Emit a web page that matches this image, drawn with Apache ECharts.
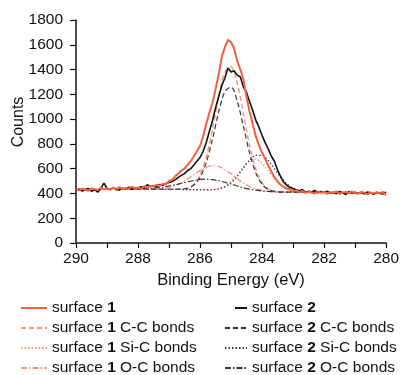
<!DOCTYPE html>
<html>
<head>
<meta charset="utf-8">
<script src="https://cdn.jsdelivr.net/npm/echarts@6/dist/echarts.min.js"></script>
<style>
html,body{margin:0;padding:0;background:#fff;}
#chart{width:402px;height:375px;}
</style>
</head>
<body>
<div id="chart"></div>
<script>
// Binding energies of the measured spectra (eV)
const energies = [290.0,289.9,289.8,289.7,289.6,289.5,289.4,289.3,289.2,289.1,
289.0,288.9,288.8,288.7,288.6,288.5,288.4,288.3,288.2,288.1,
288.0,287.9,287.8,287.7,287.6,287.5,287.4,287.3,287.2,287.1,
287.0,286.9,286.8,286.7,286.6,286.5,286.4,286.3,286.2,286.1,
286.0,285.9,285.8,285.7,285.6,285.5,285.4,285.3,285.2,285.1,
285.0,284.9,284.8,284.7,284.6,284.5,284.4,284.3,284.2,284.1,
284.0,283.9,283.8,283.7,283.6,283.5,283.4,283.3,283.2,283.1,
283.0,282.9,282.8,282.7,282.6,282.5,282.4,282.3,282.2,282.1,
282.0,281.9,281.8,281.7,281.6,281.5,281.4,281.3,281.2,281.1,
281.0,280.9,280.8,280.7,280.6,280.5,280.4,280.3,280.2,280.1,280.0];

const surface1 = [432,425,438,430,422,441,435,428,446,433,
440,429,447,436,452,431,444,438,455,440,
448,437,458,446,462,455,470,462,478,474,
500,508,540,560,585,600,630,660,700,740,
785,860,960,1050,1130,1240,1360,1500,1580,1640,
1620,1570,1470,1400,1320,1180,1060,960,860,790,
730,680,625,575,530,500,470,452,440,432,
418,425,410,420,404,415,408,398,416,405,
412,396,410,402,418,395,408,412,400,415,
403,398,412,405,393,408,400,410,402,412,386];

const surface2 = [425,436,420,431,440,418,430,411,438,484,
440,432,445,430,428,442,436,450,432,446,
440,454,442,470,456,462,455,472,466,480,
488,496,512,530,546,560,585,600,630,660,
690,740,810,900,985,1090,1180,1270,1330,1412,
1380,1390,1355,1340,1260,1215,1140,1070,990,935,
870,810,760,700,660,590,535,490,465,448,
440,428,420,432,410,418,412,425,405,415,
408,418,402,410,398,416,405,392,414,402,
410,400,408,396,412,404,394,408,400,396,412];

// Binding energies of the fitted components (eV)
const compEnergies = [288.6,288.4,288.2,288.0,287.8,287.6,287.4,287.2,287.0,286.8,
286.6,286.4,286.2,286.0,285.8,285.6,285.4,285.2,285.0,284.8,
284.6,284.4,284.2,284.0,283.8,283.6,283.4,283.2,283.0,282.8,
282.6,282.4,282.2,282.0];

const s1CC = [436,436,436,436,436,435,435,434,434,434,436,445,474,549,694,919,1179,1379,1423,1288,1041,786,596,487,436,418,412,410,410,410,410,410,410,410];
const s1SiC = [436,436,436,436,436,435,435,434,434,433,432,431,430,429,428,430,438,458,497,554,618,666,677,643,582,517,465,434,419,413,411,410,410,410];
const s1OC = [436,436,436,436,437,436,438,442,451,464,486,516,551,586,613,624,618,594,559,520,484,456,436,424,416,413,411,410,410,410,410,410,410,410];
const s2CC = [436,436,436,436,436,435,435,434,434,434,435,442,467,528,648,838,1056,1222,1259,1146,939,725,566,474,432,417,411,410,410,410,410,410,410,410];
const s2SiC = [436,436,436,436,436,435,435,434,434,433,432,431,430,429,428,430,436,453,486,538,604,668,708,707,665,600,531,477,442,423,415,411,410,410];
const s2OC = [436,436,437,438,439,441,446,451,460,470,482,494,505,513,515,511,503,490,476,460,446,435,427,420,416,413,411,410,410,410,410,410,410,410];

const xTicks = [290,288,286,284,282,280];
const yTicks = [0,200,400,600,800,1000,1200,1400,1600,1800];

const legendCol1 = ['surface 1', 'surface 1 C-C bonds', 'surface 1 Si-C bonds', 'surface 1 O-C bonds'];
const legendCol2 = ['surface 2', 'surface 2 C-C bonds', 'surface 2 Si-C bonds', 'surface 2 O-C bonds'];

const pairs = (xs, ys) => xs.map((x, i) => [x, ys[i]]);

const SAL = '#f2603e';
const SAL_L = '#f4957c';
const DARK = '#111111';
const DARK_C = '#2e3642';
const FONT = 'Liberation Sans, Arial, sans-serif';

function line(name, xs, ys, color, width, type, smooth, z) {
  return {
    name: name, type: 'line', data: pairs(xs, ys), symbol: 'none',
    smooth: smooth, z: z,
    lineStyle: {color: color, width: width, type: type},
    itemStyle: {color: color}
  };
}

const series = [
  line('surface 1 Si-C bonds', compEnergies, s1SiC, SAL_L, 1.3, [1.5, 2], 0.3, 2),
  line('surface 2 Si-C bonds', compEnergies, s2SiC, DARK_C, 1.2, [1.5, 2], 0.3, 2),
  line('surface 1 O-C bonds', compEnergies, s1OC, SAL_L, 1.3, [6, 2, 1.5, 2], 0.3, 2),
  line('surface 2 O-C bonds', compEnergies, s2OC, DARK_C, 1.2, [6, 2, 1.5, 2], 0.3, 2),
  line('surface 1 C-C bonds', compEnergies, s1CC, SAL_L, 1.4, [5, 3], 0.3, 3),
  line('surface 2 C-C bonds', compEnergies, s2CC, DARK_C, 1.2, [5, 3], 0.3, 3),
  line('surface 2', energies, surface2, DARK, 1.6, 'solid', false, 4),
  line('surface 1', energies, surface1, SAL, 2, 'solid', false, 5)
];

const legendFmt = function (name) {
  return name.replace(/surface (\d)/, 'surface {b|$1}');
};
const legendText = {
  fontFamily: FONT, fontSize: 15.5, color: '#111',
  rich: {b: {fontFamily: FONT, fontSize: 15.5, fontWeight: 'bold', color: '#111'}}
};

const legends = [];
legendCol1.forEach((n, i) => legends.push({
  left: 20, top: 300 + i * 20, itemWidth: 26, itemHeight: 14, itemTextGap: 3, padding: 0,
  data: [n], formatter: legendFmt, textStyle: legendText,
  itemStyle: {opacity: 0}, selectedMode: false
}));
legendCol2.forEach((n, i) => legends.push({
  left: i === 0 ? 234 : 224, top: 300 + i * 20, itemWidth: i === 0 ? 12 : 22, itemHeight: 14, itemTextGap: 3, padding: 0,
  data: [n], formatter: legendFmt, textStyle: legendText,
  itemStyle: {opacity: 0}, selectedMode: false
}));

const chart = echarts.init(document.getElementById('chart'), null, {renderer: 'canvas'});
chart.setOption({
  backgroundColor: '#fff',
  animation: false,
  grid: {left: 76, right: 11, top: 20, bottom: 132, containLabel: false},
  xAxis: {
    type: 'value', min: 280, max: 290, interval: 2, inverse: true,
    name: 'Binding Energy (eV)', nameLocation: 'middle', nameGap: 27,
    nameTextStyle: {fontFamily: FONT, fontSize: 16.5, color: '#111'},
    axisLine: {lineStyle: {color: '#111', width: 1.5}},
    axisTick: {show: true, inside: false, length: 5, lineStyle: {color: '#111', width: 1.2}},
    minorTick: {show: true, splitNumber: 2, length: 5, lineStyle: {color: '#111', width: 1.2}},
    splitLine: {show: false},
    axisLabel: {fontFamily: FONT, fontSize: 15.5, color: '#111', margin: 8,
      formatter: v => xTicks.includes(v) ? String(v) : ''}
  },
  yAxis: {
    type: 'value', min: 0, max: 1800, interval: 200,
    axisLine: {show: true, lineStyle: {color: '#111', width: 1.5}},
    axisTick: {show: true, inside: false, length: 6, lineStyle: {color: '#111', width: 1.2}},
    splitLine: {show: false},
    axisLabel: {fontFamily: FONT, fontSize: 15.5, color: '#111', margin: 13,
      formatter: v => yTicks.includes(v) ? String(v) : ''}
  },
  graphic: [{
    type: 'text', x: 19, y: 122, rotation: Math.PI / 2,
    style: {text: 'Counts', fontFamily: FONT, fontSize: 16, fill: '#111',
      textAlign: 'center', textVerticalAlign: 'middle'}
  }],
  legend: legends,
  series: series
});
</script>
</body>
</html>
